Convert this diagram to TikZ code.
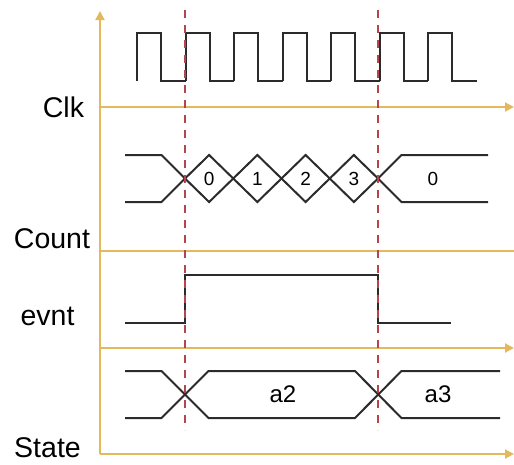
\documentclass[tikz,border=0pt]{standalone}
\usepackage{fontspec}
\setmainfont{Liberation Sans}
\usetikzlibrary{arrows.meta}
\definecolor{axisgold}{HTML}{E2B95C}
\definecolor{markred}{HTML}{B5454C}
\definecolor{wavegray}{HTML}{2B2B2B}
\begin{document}
\begin{tikzpicture}[x=1pt, y=-1pt, line cap=butt, line join=miter,
    axis/.style={draw=axisgold, line width=2pt},
    axtip/.style={-{Triangle[length=9pt,width=9pt]}},
    wave/.style={draw=wavegray, line width=2pt},
    marker/.style={draw=markred, line width=2.4pt, dash pattern=on 8pt off 7pt},
    sig/.style={inner sep=0pt, font=\fontsize{28.5}{32}\selectfont, anchor=base},
    val/.style={inner sep=0pt, font=\fontsize{19}{22}\selectfont},
    st/.style={inner sep=0pt, font=\fontsize{24}{28}\selectfont}]
  \useasboundingbox (0,0) rectangle (514,464);
  % axes
  \coordinate (o) at (100,454);
  \coordinate (top) at (100,11);
  \coordinate (clkL) at (100,107);
  \coordinate (clkR) at (514,107);
  \coordinate (cntL) at (100,251);
  \coordinate (cntR) at (514,251);
  \coordinate (evL) at (100,348);
  \coordinate (evR) at (514,348);
  \coordinate (stR) at (514,454);
  \draw[axis, axtip] (o) -- (top);
  \draw[axis, axtip] (clkL) -- (clkR);
  \draw[axis] (cntL) -- (cntR);
  \draw[axis, axtip] (evL) -- (evR);
  \draw[axis, axtip] (o) -- (stR);
  % signal names
  \node[sig] (clk) at (63.5,117) {Clk};
  \node[sig] (count) at (52,248) {Count};
  \node[sig] (evnt) at (47.5,325) {evnt};
  \node[sig] (state) at (47.5,457) {State};
  % clock
  \foreach \k in {0,...,6}{
    \pgfmathsetmacro{\r}{137+48.5*\k}
    \draw[wave] (\r,81) -- (\r,33) -- (\r+24,33) -- (\r+24,81) -- (\r+48.5,81);
  }
  % counter
  \draw[wave] (125,155) -- (161.5,155) -- (185,178.5) -- (161.5,202) -- (125,202);
  \foreach \k/\v in {0/0,1/1,2/2,3/3}{
    \pgfmathsetmacro{\c}{185+48.25*\k}
    \draw[wave] (\c,178.5) -- (\c+24.1,155) -- (\c+48.25,178.5) -- (\c+24.1,202) -- cycle;
    \node[val] (n\k) at (\c+24.1,178.5) {\v};
  }
  \draw[wave] (488,155) -- (401.5,155) -- (378,178.5) -- (401.5,202) -- (488,202);
  \node[val] (n4) at (433,178.5) {0};
  % event
  \draw[wave] (125,323) -- (185,323) -- (185,275) -- (378,275) -- (378,323) -- (451,323);
  % state
  \draw[wave] (125,371) -- (161.5,371) -- (208.5,418) -- (355,418) -- (401.5,371) -- (500,371);
  \draw[wave] (125,418) -- (161.5,418) -- (208.5,371) -- (355,371) -- (401.5,418) -- (500,418);
  \node[st] (a2) at (283,394.5) {a2};
  \node[st] (a3) at (438,394.5) {a3};
  % markers
  \coordinate (m1t) at (185,10);
  \coordinate (m1b) at (185,430);
  \coordinate (m2t) at (378,10);
  \coordinate (m2b) at (378,430);
  \draw[marker] (m1t) -- (m1b);
  \draw[marker] (m2t) -- (m2b);
\end{tikzpicture}
\end{document}
